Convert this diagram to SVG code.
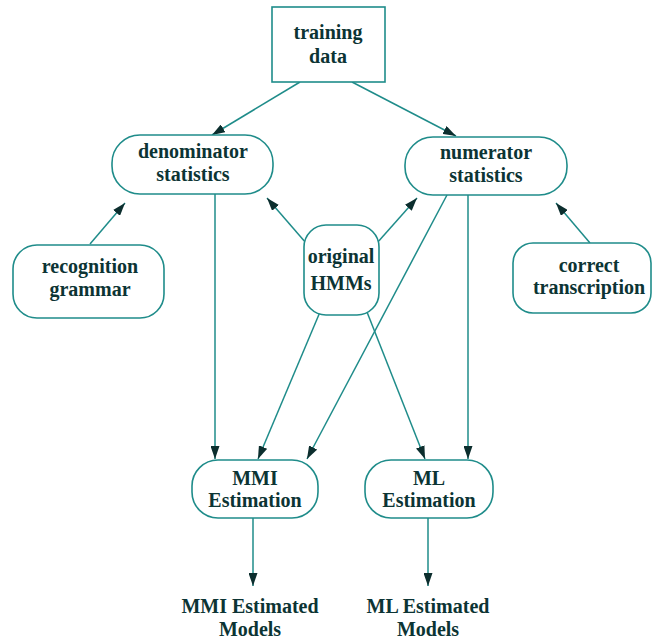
<svg xmlns="http://www.w3.org/2000/svg" width="653" height="641" viewBox="0 0 653 641">
<style>
.box{fill:#fff;stroke:#1f8c8a;stroke-width:1.6}
.t{font-family:"Liberation Serif",serif;font-weight:bold;font-size:20px;fill:#0c3434;text-anchor:middle}
.c{stroke:#1f8c8a;stroke-width:1.5;fill:none;marker-end:url(#ah)}
</style>
<defs>
<marker id="ah" markerWidth="13" markerHeight="9" refX="13" refY="4.5" orient="auto" markerUnits="userSpaceOnUse">
<path d="M0,0 L13,4.5 L0,9 Z" fill="#0c2e2e"/>
</marker>
</defs>
<rect width="653" height="641" fill="#fff"/>
<g id="connectors">
<line class="c" x1="300" y1="82" x2="212" y2="135"/>
<line class="c" x1="352" y1="82" x2="456" y2="136"/>
<line class="c" x1="90" y1="244" x2="125" y2="203"/>
<line class="c" x1="590" y1="243" x2="556" y2="203"/>
<line class="c" x1="306" y1="243" x2="267" y2="198"/>
<line class="c" x1="377" y1="243" x2="417" y2="198"/>
<line class="c" x1="215" y1="194" x2="215" y2="459"/>
<line class="c" x1="320" y1="312" x2="258" y2="459"/>
<line class="c" x1="447" y1="195" x2="307" y2="459"/>
<line class="c" x1="367" y1="312" x2="425" y2="459"/>
<line class="c" x1="468" y1="195" x2="468" y2="459"/>
<line class="c" x1="253" y1="518" x2="253" y2="586"/>
<line class="c" x1="428" y1="518" x2="428" y2="586"/>
</g>
<g id="training">
<rect class="box" x="272" y="7" width="113" height="75"/>
<text class="t" x="328" y="39">training</text>
<text class="t" x="328" y="63">data</text>
</g>
<g id="denominator">
<rect class="box" x="112" y="135" width="161" height="59" rx="28"/>
<text class="t" x="193" y="158">denominator</text>
<text class="t" x="193" y="181">statistics</text>
</g>
<g id="numerator">
<rect class="box" x="405" y="137" width="162" height="58" rx="28"/>
<text class="t" x="486" y="159">numerator</text>
<text class="t" x="486" y="182">statistics</text>
</g>
<g id="grammar">
<rect class="box" x="13" y="245" width="151" height="73" rx="24"/>
<text class="t" x="90" y="273">recognition</text>
<text class="t" x="90" y="296">grammar</text>
</g>
<g id="hmms">
<rect class="box" x="304" y="225" width="75" height="90" rx="22"/>
<text class="t" x="341" y="263">original</text>
<text class="t" x="341" y="290">HMMs</text>
</g>
<g id="transcription">
<rect class="box" x="513" y="243" width="138" height="70" rx="20"/>
<text class="t" x="589" y="272">correct</text>
<text class="t" x="589" y="294">transcription</text>
</g>
<g id="mmi">
<rect class="box" x="192" y="460" width="126" height="58" rx="26"/>
<text class="t" x="255" y="485">MMI</text>
<text class="t" x="255" y="507">Estimation</text>
</g>
<g id="ml">
<rect class="box" x="365" y="460" width="128" height="58" rx="26"/>
<text class="t" x="429" y="485">ML</text>
<text class="t" x="429" y="507">Estimation</text>
</g>
<g id="mmi-out">
<text class="t" x="250" y="613">MMI Estimated</text>
<text class="t" x="250" y="636">Models</text>
</g>
<g id="ml-out">
<text class="t" x="428" y="613">ML Estimated</text>
<text class="t" x="428" y="636">Models</text>
</g>
</svg>
